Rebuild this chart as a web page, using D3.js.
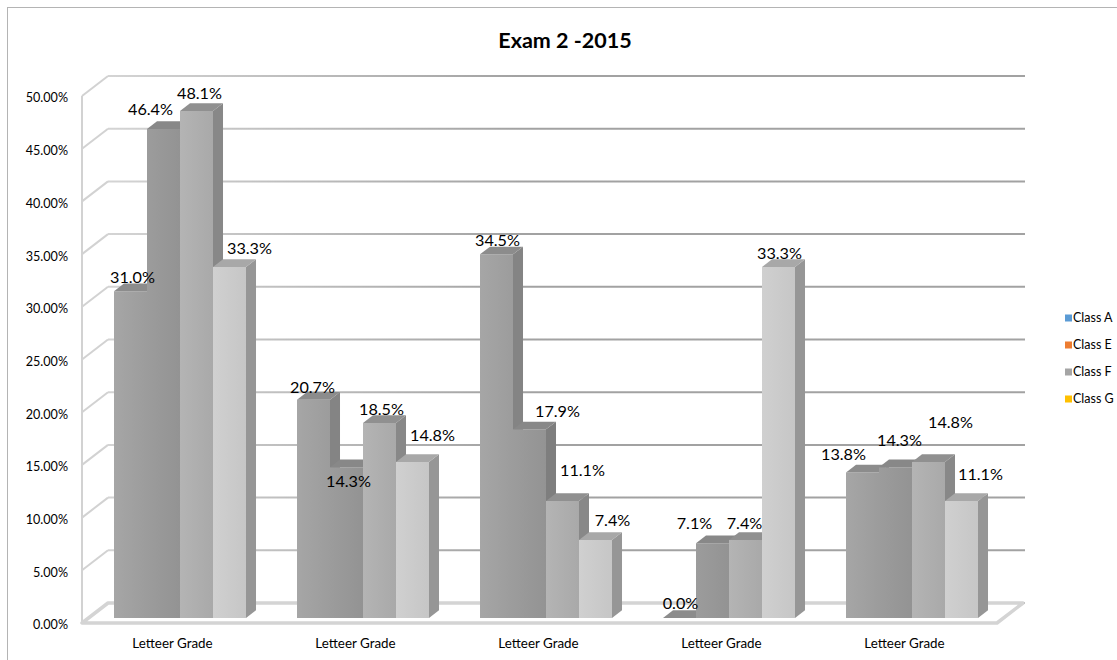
<!DOCTYPE html>
<html>
<head>
<meta charset="utf-8">
<script src="https://cdn.jsdelivr.net/npm/d3@7"></script>
<style>
  body { margin: 0; background: #fff; }
  svg { display: block; }
  text { font-family: Lato, "Open Sans", "DejaVu Sans", sans-serif; fill: #000; }
</style>
</head>
<body>
<svg id="chart" width="1117" height="660"></svg>
<script>
// ---- data ----
const chartTitle = "Exam 2 -2015";
const categoryLabels = ["Letteer Grade", "Letteer Grade", "Letteer Grade", "Letteer Grade", "Letteer Grade"];
const seriesNames = ["Class A", "Class E", "Class F", "Class G"];
const classA = [0.310, 0.207, 0.345, 0.000, 0.138];
const classE = [0.464, 0.143, 0.179, 0.071, 0.143];
const classF = [0.481, 0.185, 0.111, 0.074, 0.148];
const classG = [0.333, 0.148, 0.074, 0.333, 0.111];
const yTicks = [0, 0.05, 0.10, 0.15, 0.20, 0.25, 0.30, 0.35, 0.40, 0.45, 0.50];

// ---- styling ----
const legendColors = ["#5b9bd5", "#ed7d31", "#a5a5a5", "#ffc000"];
// 3-D shaded faces for each series: front, top, side
const faceColors = [
  { front: ["#a6a6a6", "#9c9c9c"], top: "#8c8c8c", side: "#848484" },
  { front: ["#9c9c9c", "#939393"], top: "#888888", side: "#7e7e7e" },
  { front: ["#b4b4b4", "#a9a9a9"], top: "#909090", side: "#888888" },
  { front: ["#d0d0d0", "#c6c6c6"], top: "#a8a8a8", side: "#969696" }
];
// label offsets (px) from the default spot above each bar, per series per category
const labelShift = [
  [[2, 0], [-1, 1], [1, 0], [1, -1], [-19, -4]],
  [[-13, -6], [2, 28], [28, -4], [-18, -6], [4, -13]],
  [[3, -4], [2, 0], [20, -17], [-1, -3], [22, -26]],
  [[20, -5], [20, -13], [17, -6], [1, 0], [19, -13]]
];

const values = [classA, classE, classF, classG];

const svg = d3.select("#chart");
const W = 1117, H = 660;

// ---- scales & projection ----
const plotLeft = 82, plotRight = 997;
const x = d3.scaleBand().domain(d3.range(categoryLabels.length)).range([plotLeft, plotRight]);
const clusterWidth = 132;
const xs = d3.scaleBand().domain(seriesNames).range([0, clusterWidth]);
const clusterInset = (x.bandwidth() - clusterWidth) / 2;
const y = d3.scaleLinear().domain([0, 0.5]).range([623, 96]);

const depthVec = [26, -20];      // floor depth, projected
const barD0 = 0.25, barD1 = 0.635; // bar front/back depth fractions
function proj(px, v, d) {
  return [px + depthVec[0] * d, y(v) + depthVec[1] * d];
}
const poly = pts => pts.map(p => p.join(",")).join(" ");

// ---- defs ----
const defs = svg.append("defs");
const gridGrad = defs.append("linearGradient")
  .attr("id", "gridGrad").attr("gradientUnits", "userSpaceOnUse")
  .attr("x1", 108).attr("x2", 520).attr("y1", 0).attr("y2", 0);
gridGrad.append("stop").attr("offset", 0).attr("stop-color", "#d4d4d4");
gridGrad.append("stop").attr("offset", 1).attr("stop-color", "#a2a2a2");

faceColors.forEach((c, i) => {
  const g = defs.append("linearGradient").attr("id", "front" + i)
    .attr("x1", 0).attr("x2", 1).attr("y1", 0).attr("y2", 0);
  g.append("stop").attr("offset", 0).attr("stop-color", c.front[0]);
  g.append("stop").attr("offset", 1).attr("stop-color", c.front[1]);
});

// ---- chart frame ----
svg.append("rect")
  .attr("x", 7.5).attr("y", 7.5).attr("width", W + 50).attr("height", H + 50)
  .attr("fill", "none").attr("stroke", "#b4b4b4").attr("stroke-width", 1);

// ---- walls & gridlines ----
const walls = svg.append("g");
yTicks.forEach(t => {
  const f = proj(plotLeft, t, 0), b = proj(plotLeft, t, 1), br = proj(plotRight, t, 1);
  walls.append("line")
    .attr("x1", f[0]).attr("y1", f[1]).attr("x2", b[0]).attr("y2", b[1])
    .attr("stroke", "#d2d2d2").attr("stroke-width", 2);
  walls.append("line")
    .attr("x1", b[0]).attr("y1", b[1]).attr("x2", br[0] + 2).attr("y2", br[1])
    .attr("stroke", "url(#gridGrad)").attr("stroke-width", 2);
});
walls.append("line")
  .attr("x1", plotLeft).attr("x2", plotLeft)
  .attr("y1", y(0)).attr("y2", y(0.5))
  .attr("stroke", "#d2d2d2").attr("stroke-width", 2);

// floor slab
svg.append("polygon")
  .attr("points", poly([proj(plotLeft, 0, 0), proj(plotRight, 0, 0), proj(plotRight, 0, 1), proj(plotLeft, 0, 1)]))
  .attr("fill", "#fff").attr("stroke", "#d4d4d4").attr("stroke-width", 3.5)
  .attr("stroke-linejoin", "round");

// ---- bars ----
const bars = svg.append("g");
categoryLabels.forEach((_, ci) => {
  seriesNames.forEach((s, si) => {
    const v = values[si][ci];
    const x0 = x(ci) + clusterInset + xs(s);
    const w = xs.bandwidth();
    const c = faceColors[si];
    const g = bars.append("g");
    g.append("polygon")
      .attr("points", poly([proj(x0 + w, v, barD0), proj(x0 + w, v, barD1), proj(x0 + w, 0, barD1), proj(x0 + w, 0, barD0)]))
      .attr("fill", c.side);
    g.append("polygon")
      .attr("points", poly([proj(x0, v, barD0), proj(x0 + w, v, barD0), proj(x0 + w, 0, barD0), proj(x0, 0, barD0)]))
      .attr("fill", `url(#front${si})`);
    g.append("polygon")
      .attr("points", poly([proj(x0, v, barD0), proj(x0 + w, v, barD0), proj(x0 + w, v, barD1), proj(x0, v, barD1)]))
      .attr("fill", c.top);
  });
});

// ---- value labels ----
const labels = svg.append("g").attr("font-size", 16.2).attr("text-anchor", "middle");
categoryLabels.forEach((_, ci) => {
  seriesNames.forEach((s, si) => {
    const v = values[si][ci];
    const x0 = x(ci) + clusterInset + xs(s);
    const top = proj(x0 + xs.bandwidth() / 2, v, barD0);
    const sh = labelShift[si][ci];
    labels.append("text")
      .attr("x", top[0] + sh[0])
      .attr("y", top[1] - 14 + sh[1])
      .attr("dy", "0.36em")
      .text(d3.format(".1%")(v));
  });
});

// ---- y axis labels ----
svg.append("g").attr("font-size", 12.6).attr("text-anchor", "end")
  .selectAll("text").data(yTicks).join("text")
  .attr("x", 68).attr("y", d => y(d) + 2).attr("dy", "0.35em")
  .text(d => d3.format(".2%")(d));

// ---- category labels ----
svg.append("g").attr("font-size", 13.4).attr("text-anchor", "middle")
  .selectAll("text").data(categoryLabels).join("text")
  .attr("x", (d, i) => x(i) + x.bandwidth() / 2 - 1)
  .attr("y", 643).attr("dy", "0.35em")
  .text(d => d);

// ---- title ----
svg.append("text")
  .attr("x", 565).attr("y", 48)
  .attr("text-anchor", "middle").attr("font-size", 21.5).attr("font-weight", "bold")
  .text(chartTitle);

// ---- legend ----
const legend = svg.append("g");
seriesNames.forEach((s, i) => {
  const ly = 318 + i * 27;
  legend.append("rect").attr("x", 1065).attr("y", ly - 3.5).attr("width", 7).attr("height", 7)
    .attr("fill", legendColors[i]);
  legend.append("text").attr("x", 1073).attr("y", ly).attr("dy", "0.35em")
    .attr("font-size", 12.5).text(s);
});
</script>
</body>
</html>
